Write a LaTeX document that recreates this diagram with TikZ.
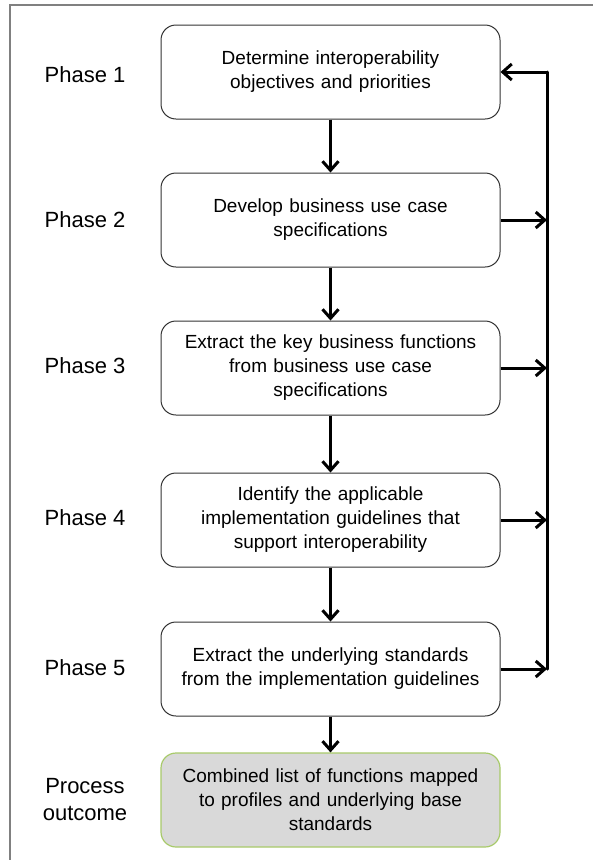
\documentclass[tikz,border=0pt]{standalone}
\usepackage{fontspec}
\setmainfont{Liberation Sans}
\usetikzlibrary{arrows.meta}
\definecolor{framegray}{RGB}{128,128,128}
\definecolor{boxline}{RGB}{50,50,50}
\definecolor{outfill}{RGB}{217,217,217}
\definecolor{outline}{RGB}{168,202,106}
\tikzset{
  phasebox/.style={rectangle, rounded corners=15pt, draw=boxline, line width=1pt,
    minimum width=339pt, minimum height=94pt, text width=332pt, align=center,
    inner sep=0pt, font=\fontsize{19}{24}\selectfont},
  outbox/.style={phasebox, draw=outline, fill=outfill, line width=1.2pt},
  phaselabel/.style={align=center, inner sep=0pt, font=\fontsize{22}{27}\selectfont},
  flow/.style={line width=3pt, -{Straight Barb[length=9pt,width=16pt]}},
  fbline/.style={line width=3pt, line cap=round, line join=round},
  frameline/.style={draw=framegray, line width=2.5pt}
}
\begin{document}
\begin{tikzpicture}[x=1pt,y=-1pt]
\useasboundingbox (0,0) rectangle (593,860);
\draw[frameline] (10,861) -- (10,5) -- (594,5);

\node[phasebox] (b1) at (330.5,72) {Determine interoperability\\objectives and priorities};
\node[phasebox] (b2) at (330.5,220) {Develop business use case\\specifications};
\node[phasebox] (b3) at (330.5,368) {Extract the key business functions\\from business use case\\specifications};
\node[phasebox] (b4) at (330.5,520) {Identify the applicable\\implementation guidelines that\\support interoperability};
\node[phasebox] (b5) at (330.5,669) {Extract the underlying standards\\from the implementation guidelines};
\node[outbox] (b6) at (330.5,800) {Combined list of functions mapped\\to profiles and underlying base\\standards};

\node[phaselabel] (l1) at (85,75) {Phase 1};
\node[phaselabel] (l2) at (85,220) {Phase 2};
\node[phaselabel] (l3) at (85,366) {Phase 3};
\node[phaselabel] (l4) at (85,518) {Phase 4};
\node[phaselabel] (l5) at (85,668) {Phase 5};
\node[phaselabel] (l6) at (85,800) {Process\\outcome};

\draw[flow] (b1) -- (b2);
\draw[flow] (b2) -- (b3);
\draw[flow] (b3) -- (b4);
\draw[flow] (b4) -- (b5);
\draw[flow] (b5) -- (b6);

\coordinate (fx) at (547,0);
\coordinate (ftop) at (b1.east -| fx);
\coordinate (fbot) at (b5.east -| fx);
\draw[fbline] (ftop) -- (fbot);
\draw[flow] (ftop) -- (b1.east);
\draw[flow] (b2.east) -- (b2.east -| fx);
\draw[flow] (b3.east) -- (b3.east -| fx);
\draw[flow] (b4.east) -- (b4.east -| fx);
\draw[flow] (b5.east) -- (fbot);
\end{tikzpicture}
\end{document}
